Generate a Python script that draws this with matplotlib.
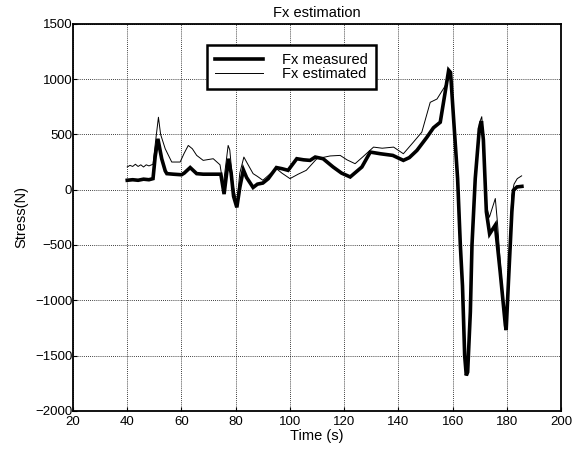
import matplotlib
matplotlib.use("Agg")
import matplotlib.pyplot as plt

plt.rcParams['font.family'] = ['Liberation Sans', 'DejaVu Sans']

# measured Fx (thick line)
t_meas = [40, 42, 44, 46, 48, 49.5, 50.3, 51.3, 52.7, 54, 54.6, 57, 60, 61,
          63.2, 65.6, 68, 72, 74.5, 75.7, 77.3, 78.3, 79.2, 80.4, 81.5, 82.8,
          84, 86.4, 88, 90, 92, 95, 97, 99.3, 102.5, 105, 107.4, 109.3, 112.2,
          115.9, 119, 122.2, 126.5, 129.6, 133.3, 137.9, 141.8, 144, 146.8,
          150.5, 152.9, 155.4, 157.2, 158.5, 159.2, 160.3, 161.8, 162.8, 163.6,
          164.4, 165, 165.5, 166.5, 167.1, 168.3, 169.8, 170.6, 171.3, 172.4,
          173.6, 175.7, 177.5, 179.4, 179.7, 180.6, 181.8, 182.4, 183.7, 185.5]
fx_meas = [85, 90, 85, 95, 90, 100, 300, 460, 280, 170, 145, 140, 135, 150,
           200, 145, 140, 140, 140, -40, 280, 150, -60, -160, 20, 180,
           110, 20, 50, 60, 100, 200, 190, 175, 280, 270, 265, 295, 280,
           205, 150, 115, 205, 340, 325, 310, 265, 290, 355,
           475, 560, 610, 880, 1080, 1060, 650, 100, -500, -870,
           -1500, -1680, -1650, -1105, -500, 100, 550, 620, 450, -200,
           -400, -320, -745, -1225, -1270, -805, -200, -5, 25, 30]

# estimated Fx (thin line)
t_est = [40, 41, 42, 43, 44, 45, 46, 47, 48, 49.5, 50.5, 51.5, 52.3, 54, 56.4,
         59.5, 61, 62.5, 64, 65.6, 68, 71.7, 74.2, 75.4, 77.2, 77.8, 79, 80.4,
         81.5, 83, 84, 86.4, 88, 90, 93, 95, 97, 100, 103, 106, 109.9, 114.8,
         118.5, 121, 124, 127, 130.8, 134, 138.2, 141.8, 145.5, 148.6, 151.7,
         154.2, 157, 158.5, 159.3, 160.4, 161.8, 162.8, 163.6, 164.5, 165,
         165.6, 166.3, 167.1, 168.3, 169.8, 170.7, 171.4, 172.5, 173.5, 175.7,
         176.5, 177.5, 179.3, 179.6, 180.6, 181.8, 182.6, 183.8, 185.4]
fx_est = [205, 220, 210, 230, 210, 225, 205, 225, 215, 230, 450, 655, 500, 370, 250,
          250, 330, 400, 370, 310, 265, 280, 225, 40, 400, 360, 40, -120,
          150, 295, 250, 145, 120, 85, 150, 190, 150, 100, 140, 175, 280, 305,
          310, 270, 235, 300, 385, 375, 385, 325, 430, 520, 790,
          820, 930, 1000, 1040, 620, 80, -500, -850, -1450, -1640,
          -1600, -1100, -480, 150, 600, 660, 450, -150, -250, -80,
          -300, -650, -1200, -1230, -700, -50, 50, 100, 125]

x_ticks = [20, 40, 60, 80, 100, 120, 140, 160, 180, 200]
y_ticks = [-2000, -1500, -1000, -500, 0, 500, 1000, 1500]

fig = plt.figure(figsize=(5.84, 4.58), dpi=100)
ax = fig.add_axes([0.125, 0.103, 0.836, 0.845])

ax.plot(t_meas, fx_meas, color='black', lw=2.6, label='Fx measured',
        solid_joinstyle='miter')
ax.plot(t_est, fx_est, color='black', lw=0.7, label='Fx estimated')

ax.set_xlim(20, 200)
ax.set_ylim(-2000, 1500)
ax.set_xticks(x_ticks)
ax.set_yticks(y_ticks)
ax.grid(True, color='black', linestyle=(0, (1, 1.5)), linewidth=0.6)
ax.tick_params(direction='in', length=3, labelsize=9.5, colors='black')
ax.tick_params(axis='y', pad=0.5)
for s in ax.spines.values():
    s.set_linewidth(1.3)

ax.set_title('Fx estimation', fontsize=10.5, pad=5)
ax.set_xlabel('Time (s)', fontsize=10.5, labelpad=1)
ax.set_ylabel('Stress(N)', fontsize=10.5, labelpad=5)

leg = ax.legend(loc='upper left', bbox_to_anchor=(0.275, 0.945),
                fontsize=10.5, handlelength=3.3, fancybox=False, framealpha=1,
                edgecolor='black', borderpad=0.55, labelspacing=0.0,
                handletextpad=1.3, borderaxespad=0)
leg.get_frame().set_linewidth(1.8)

fig.savefig('out.png', dpi=100)
